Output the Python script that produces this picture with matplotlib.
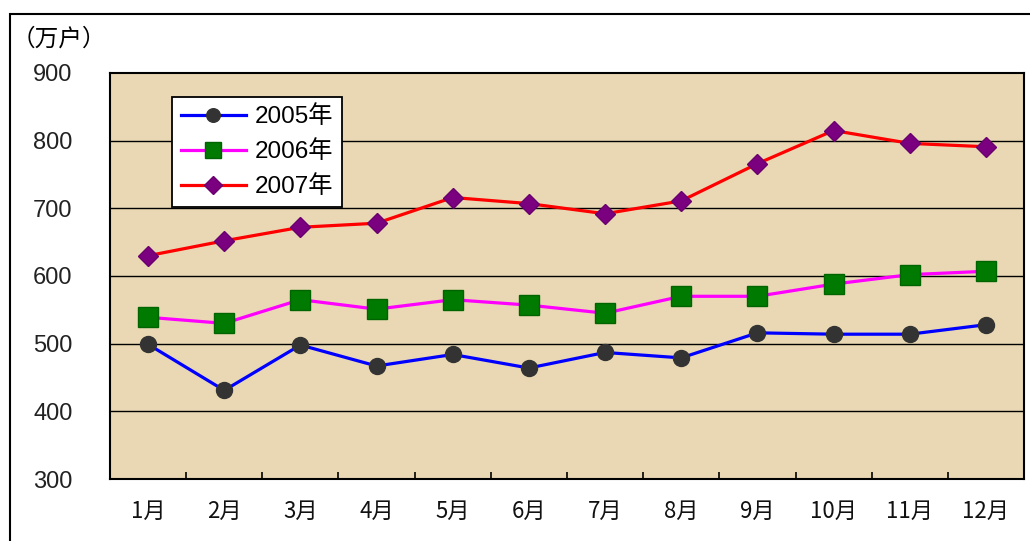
import matplotlib
matplotlib.use("Agg")
import matplotlib.pyplot as plt
from matplotlib.patches import Rectangle

plt.rcParams["font.family"] = ["Liberation Sans", "Noto Sans CJK SC", "DejaVu Sans"]

# data (万户)
months = ["1月", "2月", "3月", "4月", "5月", "6月", "7月", "8月", "9月", "10月", "11月", "12月"]
y2005 = [499, 431, 498, 467, 484, 464, 487, 479, 516, 514, 514, 528]
y2006 = [539, 530, 565, 551, 565, 557, 545, 570, 570, 588, 602, 607]
y2007 = [630, 652, 672, 678, 716, 707, 692, 711, 766, 815, 796, 791]
yticks = [300, 400, 500, 600, 700, 800, 900]

fig = plt.figure(figsize=(10.3, 5.41), dpi=100)
ax = fig.add_axes([110 / 1030, 1 - 479 / 541, 914 / 1030, 406 / 541])
ax.set_facecolor("#E9D8B3")

x = list(range(len(months)))
ax.plot(x, y2005, color="#0000FF", lw=2.3, marker="o", ms=11.5,
        mfc="#333333", mec="#333333", label="2005年", zorder=3)
ax.plot(x, y2006, color="#FF00FF", lw=2.3, marker="s", ms=14,
        mfc="#007A00", mec="#006400", label="2006年", zorder=3)
ax.plot(x, y2007, color="#FF0000", lw=2.3, marker="D", ms=10.5,
        mfc="#7A0080", mec="#6A006F", label="2007年", zorder=3)

ax.set_xlim(-0.5, 11.5)
ax.set_ylim(300, 900)
ax.set_yticks(yticks)
ax.set_yticklabels([str(v) for v in yticks], fontsize=17, color="#222222")
ax.tick_params(axis="y", length=0, pad=27)
ax.set_xticks(x)
ax.set_xticklabels(months, fontsize=16, color="#111111",
                   family=["Noto Sans CJK SC", "DejaVu Sans"])
ax.tick_params(axis="x", which="major", length=0, pad=15)
ax.set_xticks([i + 0.5 for i in range(11)], minor=True)
ax.tick_params(axis="x", which="minor", direction="in", length=5, width=1.2, color="black")

for v in yticks[1:-1]:
    ax.axhline(v, color="black", lw=1, zorder=1)
for s in ax.spines.values():
    s.set_color("black")
    s.set_linewidth(1.5)

leg = ax.legend(loc="upper left", bbox_to_anchor=(62 / 914, 1 - 24 / 406),
                fontsize=17.5, frameon=True, fancybox=False, edgecolor="black",
                framealpha=1, handlelength=2.7, borderpad=0.35, labelspacing=0.5,
                handletextpad=0.35, borderaxespad=0, markerscale=0.85)
leg.get_frame().set_linewidth(1.3)

fig.text(12 / 1030, 1 - 39 / 541, "（万户）", fontsize=17, va="center",
         family=["Noto Sans CJK SC", "DejaVu Sans"])

fig.patches.append(Rectangle((10 / 1030, -0.05), 1.2, 1.05 - 14 / 541,
                             transform=fig.transFigure, fill=False,
                             edgecolor="black", lw=1.5))

fig.savefig("out.png", dpi=100)
